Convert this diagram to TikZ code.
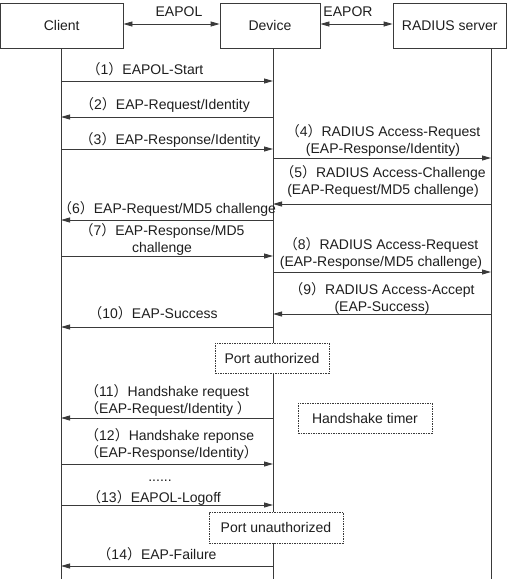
\documentclass[tikz,border=0pt]{standalone}
\usepackage{fontspec}
\setmainfont{Liberation Sans}
\newfontfamily\cjk{Noto Sans CJK SC}
\usetikzlibrary{arrows.meta}
\newcommand\lp{{\cjk （}}
\newcommand\rp{{\cjk ）}}
\newcommand\myfs{\fontsize{14}{17}\selectfont}
\definecolor{linegray}{HTML}{3A3A3A}
\definecolor{textgray}{HTML}{1E1E1E}
\newcommand\lane[2]{\coordinate (C#1) at (61,#2); \coordinate (D#1) at (273,#2); \coordinate (R#1) at (491,#2);}
\begin{document}
\begin{tikzpicture}[x=1pt,y=-1pt,
  box/.style={draw=linegray, line width=0.8pt, minimum height=45pt, inner sep=0pt, font=\myfs, text=textgray},
  dbox/.style={draw=linegray, line width=0.7pt, dash pattern=on 1.5pt off 1pt, fill=white, inner sep=0pt, font=\myfs, text=textgray},
  life/.style={draw=linegray, line width=0.8pt},
  msg/.style={draw=linegray, line width=0.8pt, -{Triangle[length=9pt,width=5pt]}},
  both/.style={draw=linegray, line width=0.8pt, {Triangle[length=9pt,width=5pt]}-{Triangle[length=9pt,width=5pt]}},
  lbl/.style={inner sep=0pt, anchor=base, align=center, font=\myfs, text=textgray},
  lbll/.style={inner sep=0pt, anchor=base west, align=left, font=\myfs, text=textgray}]
\useasboundingbox (0,0) rectangle (507,579);
% header boxes
\node[box, minimum width=122.5pt] (client) at (61.75,25.5) {Client};
\node[box, minimum width=100pt] (device) at (270,25.5) {Device};
\node[box, minimum width=113.5pt] (radius) at (449.75,25.5) {RADIUS server};
\draw[both] (client.east |- 0,24) coordinate (e1) -- (device.west |- 0,24) coordinate (e2);
\draw[both] (device.east |- 0,24) coordinate (e3) -- (radius.west |- 0,24) coordinate (e4);
\node[lbl] (eapol) at (179,16) {EAPOL};
\node[lbl] (eapor) at (348,16) {EAPOR};
% lifelines
\coordinate (ctop) at (61,48); \coordinate (cbot) at (61,579);
\coordinate (dtop) at (273,48); \coordinate (dbot) at (273,579);
\coordinate (rtop) at (491,48); \coordinate (rbot) at (491,579);
\draw[life] (ctop) -- (cbot);
\draw[life] (dtop) -- (dbot);
\draw[life] (rtop) -- (rbot);
% lanes
\lane{1}{81} \lane{2}{117} \lane{3}{149} \lane{4}{158} \lane{5}{204}
\lane{6}{220} \lane{7}{256} \lane{8}{272} \lane{9}{314} \lane{10}{327}
\lane{11}{418} \lane{12}{464} \lane{13}{505} \lane{14}{566}
% messages
\draw[msg] (C1) -- (D1);
\node[lbl] (l1) at (145,74) {\lp1\rp EAPOL-Start};
\draw[msg] (D2) -- (C2);
\node[lbl] (l2) at (165,109) {\lp2\rp EAP-Request/Identity};
\draw[msg] (C3) -- (D3);
\node[lbl] (l3) at (170,144) {\lp3\rp EAP-Response/Identity};
\draw[msg] (D4) -- (R4);
\node[lbl] (l4) at (383,153) {\lp4\rp RADIUS Access-Request\\(EAP-Response/Identity)};
\draw[msg] (R5) -- (D5);
\node[lbl] (l5) at (383,194) {\lp5\rp RADIUS Access-Challenge\\(EAP-Request/MD5 challenge)};
\draw[msg] (D6) -- (C6);
\node[lbl] (l6) at (167,213) {\lp6\rp EAP-Request/MD5 challenge};
\draw[msg] (C7) -- (D7);
\node[lbl] (l7) at (162,252) {\lp7\rp EAP-Response/MD5\\challenge};
\draw[msg] (D8) -- (R8);
\node[lbl] (l8) at (381,266) {\lp8\rp RADIUS Access-Request\\(EAP-Response/MD5 challenge)};
\draw[msg] (R9) -- (D9);
\node[lbl] (l9) at (382,311) {\lp9\rp RADIUS Access-Accept\\(EAP-Success)};
\draw[msg] (D10) -- (C10);
\node[lbl] (l10) at (153,318) {\lp10\rp EAP-Success};
\node[dbox, minimum width=114pt, minimum height=30pt] (pa) at (272,358) {Port authorized};
\draw[msg] (D11) -- (C11);
\node[lbll] (l11) at (85,413) {\lp11\rp Handshake request\\\lp EAP-Request/Identity \rp};
\node[dbox, minimum width=134pt, minimum height=30pt] (ht) at (365,418) {Handshake timer};
\draw[msg] (C12) -- (D12);
\node[lbll] (l12) at (85,457) {\lp12\rp Handshake reponse\\\lp EAP-Response/Identity\rp};
\node[lbl] (dots) at (160,481) {......};
\draw[msg] (C13) -- (D13);
\node[lbl] (l13) at (154,502) {\lp13\rp EAPOL-Logoff};
\node[dbox, minimum width=134pt, minimum height=31pt] (pu) at (276,527.5) {Port unauthorized};
\draw[msg] (D14) -- (C14);
\node[lbl] (l14) at (157,559) {\lp14\rp EAP-Failure};
\end{tikzpicture}
\end{document}
